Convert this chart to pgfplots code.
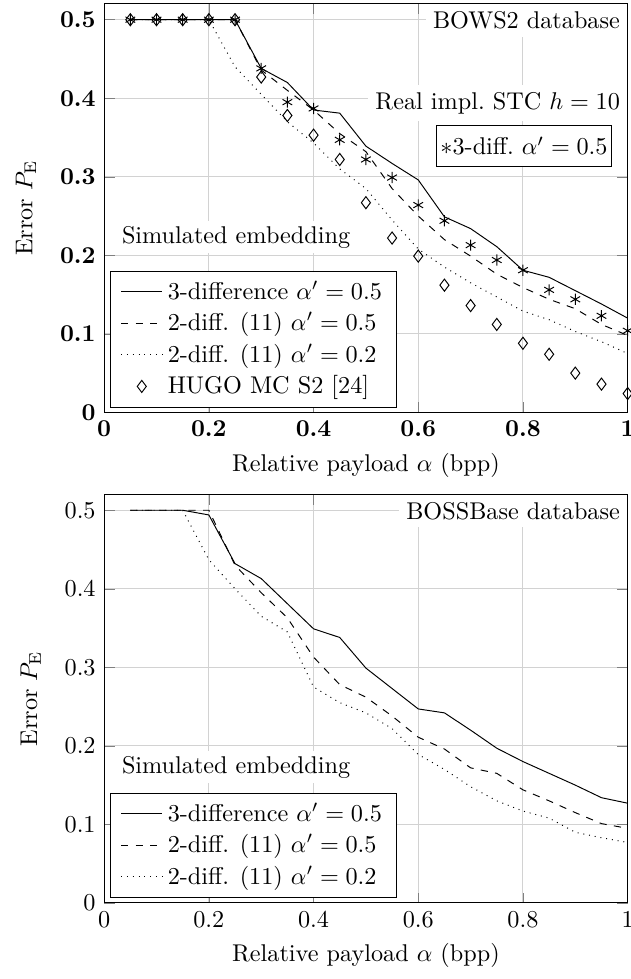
\documentclass[border=0pt]{standalone}
\usepackage{pgfplots}
\pgfplotsset{compat=1.18}
\pgfplotstableread{
x     s      d      t     st     di
0.05  0.5    0.5    0.5   0.5    0.5
0.10  0.5    0.5    0.5   0.5    0.5
0.15  0.5    0.5    0.5   0.5    0.5
0.20  0.5    0.5    0.5   0.5    0.5
0.25  0.5    0.5    0.44  0.5    0.5
0.30  0.438  0.436  0.405 0.438  0.427
0.35  0.420  0.410  0.370 0.395  0.378
0.40  0.385  0.385  0.343 0.387  0.353
0.45  0.381  0.355  0.310 0.347  0.322
0.50  0.339  0.332  0.285 0.322  0.267
0.55  0.317  0.285  0.245 0.299  0.222
0.60  0.296  0.250  0.208 0.264  0.199
0.65  0.249  0.220  0.185 0.244  0.162
0.70  0.234  0.199  0.165 0.213  0.136
0.75  0.211  0.176  0.147 0.194  0.112
0.80  0.181  0.159  0.129 0.181  0.088
0.85  0.172  0.144  0.118 0.156  0.074
0.90  0.155  0.132  0.103 0.144  0.050
0.95  0.138  0.112  0.090 0.123  0.036
1.00  0.120  0.098  0.075 0.104  0.024
}\topdata
\pgfplotstableread{
x     s      d      t
0.05  0.5    0.5    0.5
0.10  0.5    0.5    0.5
0.15  0.5    0.5    0.5
0.20  0.494  0.5    0.437
0.25  0.432  0.43   0.40
0.30  0.413  0.395  0.365
0.35  0.381  0.363  0.345
0.40  0.349  0.313  0.275
0.45  0.338  0.278  0.255
0.50  0.299  0.262  0.242
0.55  0.273  0.238  0.222
0.60  0.247  0.211  0.189
0.65  0.242  0.196  0.170
0.70  0.220  0.172  0.148
0.75  0.197  0.165  0.130
0.80  0.180  0.144  0.117
0.85  0.165  0.130  0.108
0.90  0.150  0.115  0.090
0.95  0.134  0.101  0.083
1.00  0.127  0.095  0.077
}\botdata
\begin{document}
\begin{tikzpicture}
\pgfplotsset{
  common/.style={
    width=216.1pt, height=168.6pt, scale only axis,
    xmin=0, xmax=1, ymin=0, ymax=0.52,
    xtick={0,0.2,0.4,0.6,0.8,1}, ytick={0,0.1,0.2,0.3,0.4,0.5},
    grid=major, grid style={gray!35},
    xlabel={Relative payload $\alpha$ (bpp)},
    ylabel={Error $P_{\mathrm{E}}$},
    ylabel shift=3pt,
    legend cell align=left,
    legend style={at={(0.012,0.012)}, anchor=south west, draw=black, inner xsep=4pt},
  }
}
\begin{axis}[common, name=top, ticklabel style={font=\boldmath}]
\addplot[black, solid, no marks] table[x=x,y=s]{\topdata};
\addlegendentry{3-difference $\alpha'=0.5$}
\addplot[black, dashed, no marks] table[x=x,y=d]{\topdata};
\addlegendentry{2-diff. (11) $\alpha'=0.5$}
\addplot[black, dotted, no marks] table[x=x,y=t]{\topdata};
\addlegendentry{2-diff. (11) $\alpha'=0.2$}
\addplot[black, only marks, mark=diamond, mark size=2.5pt] table[x=x,y=di]{\topdata};
\addlegendentry{HUGO MC S2 [24]}
\addplot[black, only marks, mark=asterisk, mark size=2.3pt, forget plot] table[x=x,y=st]{\topdata};
\node[fill=white, anchor=north east, inner sep=3pt] at (rel axis cs:1,1) {BOWS2 database};
\node[fill=white, anchor=east, inner sep=3pt] at (axis cs:1,0.394) {Real impl.\ STC $h=10$};
\node[fill=white, draw=black, inner xsep=1.5pt, inner ysep=4.5pt] at (axis cs:0.802,0.339) {$\ast$3-diff.\ $\alpha'=0.5$\hspace{5pt}};
\node[fill=white, inner sep=2pt] at (axis cs:0.252,0.223) {Simulated embedding};
\end{axis}
\begin{axis}[common, name=bot, at={(0,-202.5pt)}]
\addplot[black, solid, no marks] table[x=x,y=s]{\botdata};
\addlegendentry{3-difference $\alpha'=0.5$}
\addplot[black, dashed, no marks] table[x=x,y=d]{\botdata};
\addlegendentry{2-diff. (11) $\alpha'=0.5$}
\addplot[black, dotted, no marks] table[x=x,y=t]{\botdata};
\addlegendentry{2-diff. (11) $\alpha'=0.2$}
\node[fill=white, anchor=north east, inner sep=3pt] at (rel axis cs:1,1) {BOSSBase database};
\node[fill=white, inner sep=2pt] at (axis cs:0.252,0.173) {Simulated embedding};
\end{axis}
\pgfresetboundingbox
\path[use as bounding box] ([xshift=-43pt,yshift=1.65pt]top.north west) rectangle ([xshift=1.2pt,yshift=-31.4pt]bot.south east);
\end{tikzpicture}
\end{document}
